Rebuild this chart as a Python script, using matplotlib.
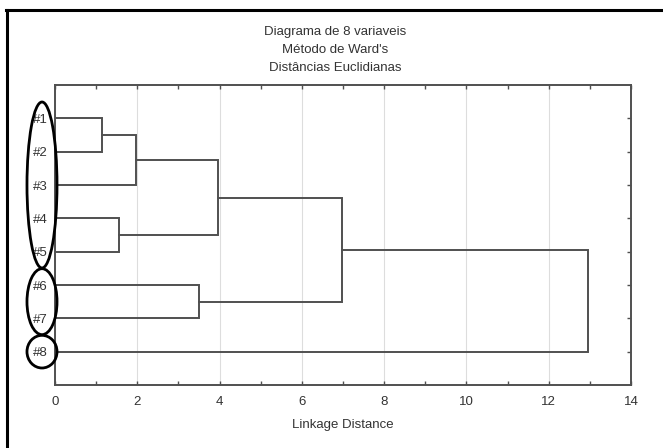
"""Dendrogram: 8 variables, Ward's method, Euclidean distances."""
import matplotlib
matplotlib.use("Agg")
import matplotlib.pyplot as plt
from matplotlib.patches import Ellipse
from matplotlib.lines import Line2D

# ============================ data ============================
LEAF_LABELS = ["#1", "#2", "#3", "#4", "#5", "#6", "#7", "#8"]
# merges: (left node, right node, linkage distance); nodes 0-7 are leaves, 8+ are clusters
MERGE_LEFT   = [0, 8, 3, 9, 5, 11, 13]
MERGE_RIGHT  = [1, 2, 4, 10, 6, 12, 7]
MERGE_HEIGHT = [1.15, 1.98, 1.55, 3.97, 3.5, 6.97, 12.96]
TITLE_LINES  = ["Diagrama de 8 variaveis", "Método de Ward's", "Distâncias Euclidianas"]
XLABEL       = "Linkage Distance"
# ellipses drawn around leaf groups: (first leaf, last leaf)
GROUPS       = [(1, 5), (6, 7), (8, 8)]
# ==============================================================

W, H = 663, 448
plt.rcParams["font.family"] = ["Liberation Sans", "DejaVu Sans"]
TXT = "#333333"
LINE = "#505050"

fig = plt.figure(figsize=(W / 100, H / 100), dpi=100)
ax = fig.add_axes([55 / W, (H - 385) / H, 576 / W, 300 / H])

# node positions: leaves at 1..n (top to bottom), clusters at mean of children
ypos = {i: i + 1 for i in range(len(LEAF_LABELS))}
xpos = {i: 0.0 for i in range(len(LEAF_LABELS))}
for k, (a, b, h) in enumerate(zip(MERGE_LEFT, MERGE_RIGHT, MERGE_HEIGHT)):
    node = len(LEAF_LABELS) + k
    ax.plot([xpos[a], h, h, xpos[b]], [ypos[a], ypos[a], ypos[b], ypos[b]],
            color=LINE, lw=1.4, solid_joinstyle="miter", zorder=3)
    xpos[node] = h
    ypos[node] = (ypos[a] + ypos[b]) / 2

ax.set_xlim(0, 14)
ax.set_ylim(len(LEAF_LABELS) + 1, 0)
ax.set_xticks(range(0, 15, 2))
ax.set_xticks(range(1, 14, 2), minor=True)
ax.grid(axis="x", which="major", color="#dddddd", lw=0.8, zorder=0)
ax.set_yticks(range(1, len(LEAF_LABELS) + 1), LEAF_LABELS)

ax.tick_params(axis="x", which="both", direction="in", top=True, length=3,
               width=1, color=LINE, labelsize=9.5, labelcolor=TXT, pad=8)
ax.tick_params(axis="y", direction="in", left=False, right=True, length=3,
               width=1, color=LINE, labelsize=9.5, labelcolor=TXT, pad=5)
for s in ax.spines.values():
    s.set_color(LINE)
    s.set_linewidth(1.4)
ax.set_xlabel(XLABEL, fontsize=9.5, color=TXT, labelpad=8)

# ellipses around leaf groups (left of the axis)
for first, last in GROUPS:
    e = Ellipse((-0.316, (first + last) / 2), width=0.73,
                height=(last - first) + 0.98, fill=False, ec="black", lw=2,
                clip_on=False, zorder=5)
    ax.add_patch(e)

# title
for i, line in enumerate(TITLE_LINES):
    fig.text(335 / W, 1 - (32 + 18 * i) / H, line, ha="center", va="center",
             fontsize=9.5, color=TXT)

# partial outer frame (top and left edges)
fig.add_artist(Line2D([6 / W, 1], [1 - 10 / H, 1 - 10 / H], color="black", lw=2.2,
                      transform=fig.transFigure))
fig.add_artist(Line2D([7 / W, 7 / W], [0, 1 - 10 / H], color="black", lw=2.2,
                      transform=fig.transFigure))

fig.savefig("out.png", dpi=100)
